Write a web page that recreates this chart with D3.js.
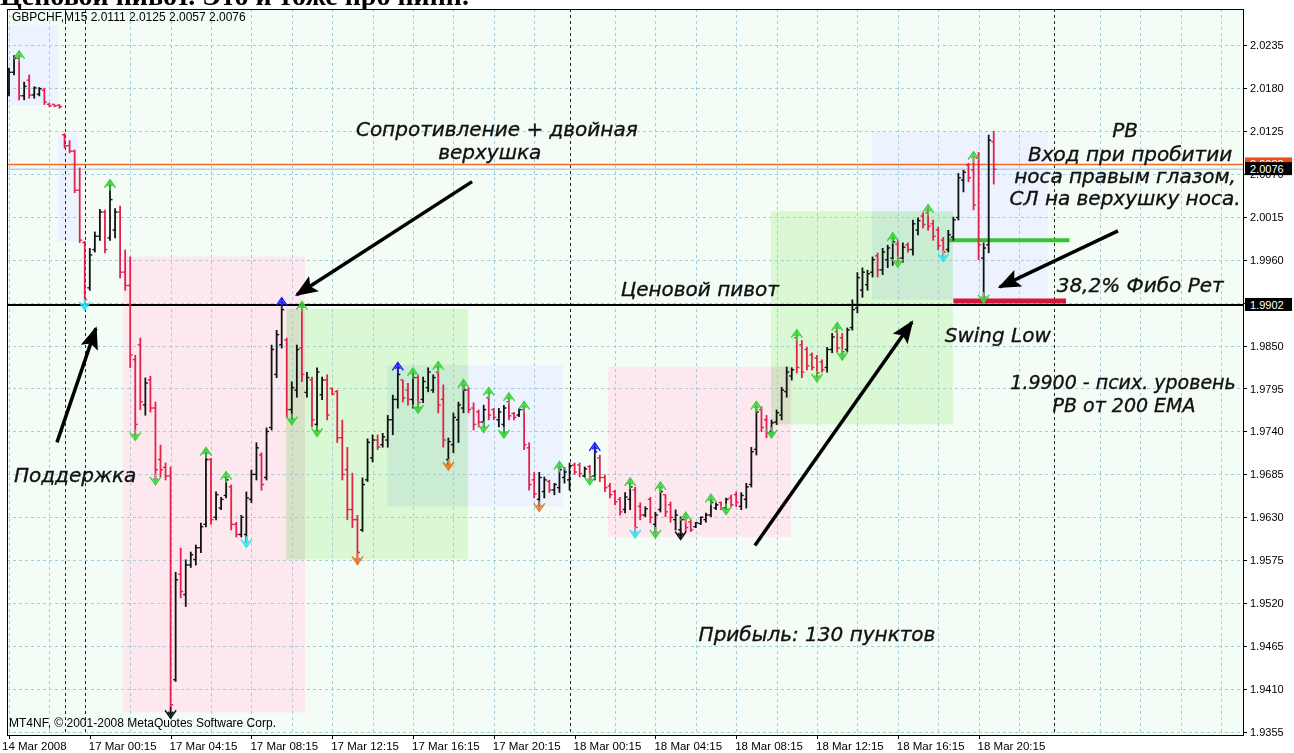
<!DOCTYPE html>
<html>
<head>
<meta charset="utf-8">
<script src="https://cdn.jsdelivr.net/npm/d3@7"></script>
<style>
  body { margin: 0; background: #fff; }
  svg text { font-family: "Liberation Sans", Arial, sans-serif; }
  .note { font-family: "DejaVu Sans", Verdana, sans-serif !important; font-style: italic; font-size: 20px; fill: #111; stroke: #111; stroke-width: 0.35px; }
</style>
</head>
<body>
<script>
// GBPCHF M15, 14-18 Mar 2008, one value per bar (bar 0 = first bar on the left)
const opens = [2.0174,2.0200,2.0218,2.0170,2.0190,2.0171,2.0172,2.0177,2.0159,2.0159,2.0158,2.0120,2.0106,2.0099,2.0049,1.9982,1.9924,1.9973,1.9990,2.0021,
  1.9988,1.9998,2.0021,1.9944,1.9927,1.9832,1.9851,1.9774,1.9806,1.9770,1.9704,1.9694,1.9683,1.9422,1.9557,1.9531,1.9569,1.9576,1.9591,1.9621,
  1.9704,1.9630,1.9642,1.9658,1.9669,1.9621,1.9608,1.9608,1.9653,1.9685,1.9710,1.9681,1.9745,1.9813,1.9851,1.9857,1.9768,1.9793,1.9847,1.9790,
  1.9806,1.9749,1.9787,1.9806,1.9795,1.9791,1.9732,1.9691,1.9640,1.9627,1.9614,1.9678,1.9706,1.9729,1.9723,1.9729,1.9755,1.9781,1.9806,1.9793,
  1.9781,1.9809,1.9781,1.9796,1.9793,1.9816,1.9781,1.9704,1.9723,1.9755,1.9770,1.9793,1.9770,1.9765,1.9752,1.9783,1.9768,1.9755,1.9749,1.9778,
  1.9763,1.9761,1.9768,1.9719,1.9678,1.9653,1.9663,1.9676,1.9665,1.9668,1.9681,1.9678,1.9697,1.9697,1.9683,1.9695,1.9683,1.9706,1.9681,1.9670,
  1.9663,1.9653,1.9640,1.9653,1.9665,1.9644,1.9633,1.9653,1.9621,1.9640,1.9659,1.9646,1.9627,1.9614,1.9627,1.9624,1.9618,1.9622,1.9627,1.9633,
  1.9642,1.9649,1.9642,1.9655,1.9659,1.9644,1.9653,1.9672,1.9717,1.9768,1.9755,1.9740,1.9752,1.9761,1.9791,1.9811,1.9860,1.9851,1.9845,1.9838,
  1.9834,1.9829,1.9822,1.9845,1.9868,1.9860,1.9845,1.9873,1.9898,1.9921,1.9928,1.9944,1.9965,1.9947,1.9960,1.9962,1.9980,1.9962,1.9979,1.9973,
  1.9998,2.0016,2.0020,2.0006,1.9998,1.9985,1.9973,1.9989,2.0014,2.0062,2.0081,2.0075,2.0090,1.9962,1.9979,2.0111];
const highs = [2.0206,2.0222,2.0221,2.0188,2.0197,2.0182,2.0181,2.0180,2.0161,2.0159,2.0159,2.0122,2.0113,2.0101,2.0078,1.9984,1.9975,1.9996,2.0025,2.0024,
  2.0056,2.0026,2.0029,1.9973,1.9964,1.9838,1.9860,1.9809,1.9811,1.9778,1.9723,1.9700,1.9695,1.9560,1.9591,1.9576,1.9586,1.9595,1.9623,1.9713,
  1.9706,1.9663,1.9656,1.9682,1.9672,1.9624,1.9633,1.9663,1.9691,1.9726,1.9713,1.9745,1.9851,1.9870,1.9905,1.9860,1.9804,1.9851,1.9900,1.9816,
  1.9810,1.9822,1.9810,1.9813,1.9796,1.9793,1.9755,1.9720,1.9687,1.9633,1.9681,1.9731,1.9736,1.9736,1.9738,1.9761,1.9787,1.9822,1.9806,1.9802,
  1.9815,1.9813,1.9810,1.9822,1.9813,1.9823,1.9800,1.9732,1.9764,1.9778,1.9800,1.9796,1.9777,1.9768,1.9774,1.9790,1.9770,1.9770,1.9774,1.9783,
  1.9765,1.9770,1.9772,1.9726,1.9688,1.9688,1.9682,1.9678,1.9674,1.9695,1.9694,1.9700,1.9700,1.9700,1.9695,1.9697,1.9719,1.9710,1.9685,1.9674,
  1.9665,1.9656,1.9662,1.9674,1.9669,1.9649,1.9644,1.9656,1.9637,1.9669,1.9659,1.9650,1.9640,1.9631,1.9630,1.9627,1.9624,1.9631,1.9636,1.9653,
  1.9649,1.9650,1.9655,1.9659,1.9663,1.9662,1.9674,1.9720,1.9772,1.9772,1.9761,1.9755,1.9768,1.9797,1.9823,1.9822,1.9864,1.9857,1.9848,1.9841,
  1.9838,1.9832,1.9848,1.9866,1.9873,1.9866,1.9873,1.9909,1.9944,1.9950,1.9947,1.9964,1.9969,1.9975,1.9979,1.9988,1.9985,1.9982,1.9982,2.0011,
  2.0014,2.0020,2.0024,2.0011,2.0002,1.9989,1.9998,2.0015,2.0071,2.0075,2.0084,2.0092,2.0098,1.9982,2.0120,2.0125];
const lows = [2.0170,2.0197,2.0165,2.0165,2.0167,2.0167,2.0170,2.0159,2.0156,2.0156,2.0154,2.0103,2.0097,2.0046,1.9982,1.9902,1.9921,1.9970,1.9985,1.9969,
  1.9985,1.9988,1.9937,1.9921,1.9822,1.9735,1.9768,1.9761,1.9765,1.9678,1.9682,1.9678,1.9379,1.9420,1.9527,1.9516,1.9566,1.9569,1.9585,1.9618,
  1.9621,1.9627,1.9640,1.9655,1.9614,1.9605,1.9605,1.9598,1.9649,1.9678,1.9665,1.9678,1.9742,1.9809,1.9847,1.9758,1.9755,1.9784,1.9804,1.9784,
  1.9746,1.9740,1.9781,1.9755,1.9787,1.9726,1.9678,1.9627,1.9617,1.9576,1.9612,1.9676,1.9701,1.9717,1.9720,1.9720,1.9736,1.9770,1.9778,1.9774,
  1.9770,1.9770,1.9777,1.9791,1.9790,1.9764,1.9720,1.9697,1.9713,1.9726,1.9764,1.9764,1.9742,1.9746,1.9745,1.9755,1.9755,1.9746,1.9738,1.9755,
  1.9755,1.9759,1.9717,1.9665,1.9655,1.9644,1.9655,1.9662,1.9659,1.9662,1.9674,1.9665,1.9685,1.9682,1.9681,1.9678,1.9678,1.9676,1.9663,1.9655,
  1.9646,1.9633,1.9636,1.9640,1.9610,1.9627,1.9631,1.9623,1.9610,1.9637,1.9631,1.9624,1.9614,1.9608,1.9612,1.9612,1.9617,1.9621,1.9624,1.9631,
  1.9640,1.9640,1.9640,1.9644,1.9644,1.9640,1.9642,1.9669,1.9710,1.9740,1.9732,1.9738,1.9749,1.9755,1.9784,1.9806,1.9815,1.9809,1.9819,1.9819,
  1.9810,1.9816,1.9816,1.9841,1.9842,1.9838,1.9842,1.9870,1.9892,1.9912,1.9921,1.9938,1.9938,1.9941,1.9950,1.9953,1.9957,1.9957,1.9970,1.9966,
  1.9992,2.0001,1.9998,1.9985,1.9973,1.9964,1.9970,1.9985,2.0011,2.0047,2.0060,2.0024,1.9960,1.9911,1.9969,2.0057];
const closes = [2.0200,2.0218,2.0170,2.0182,2.0171,2.0180,2.0179,2.0162,2.0157,2.0157,2.0156,2.0106,2.0099,2.0049,1.9985,1.9909,1.9966,1.9990,2.0021,1.9973,
  2.0037,2.0021,1.9944,1.9927,1.9838,1.9749,1.9778,1.9802,1.9770,1.9691,1.9691,1.9683,1.9390,1.9550,1.9535,1.9569,1.9582,1.9591,1.9618,1.9704,
  1.9627,1.9659,1.9653,1.9678,1.9621,1.9608,1.9630,1.9655,1.9685,1.9719,1.9672,1.9740,1.9845,1.9864,1.9896,1.9768,1.9796,1.9845,1.9813,1.9809,
  1.9755,1.9816,1.9806,1.9761,1.9788,1.9732,1.9685,1.9640,1.9627,1.9585,1.9672,1.9726,1.9729,1.9720,1.9733,1.9755,1.9781,1.9813,1.9783,1.9781,
  1.9809,1.9777,1.9804,1.9816,1.9809,1.9774,1.9729,1.9727,1.9758,1.9774,1.9793,1.9768,1.9749,1.9752,1.9768,1.9761,1.9758,1.9765,1.9770,1.9760,
  1.9758,1.9768,1.9723,1.9672,1.9660,1.9681,1.9678,1.9665,1.9672,1.9691,1.9688,1.9696,1.9688,1.9686,1.9692,1.9682,1.9714,1.9681,1.9668,1.9659,
  1.9650,1.9637,1.9656,1.9669,1.9617,1.9633,1.9641,1.9630,1.9633,1.9663,1.9637,1.9630,1.9633,1.9627,1.9617,1.9614,1.9623,1.9630,1.9633,1.9649,
  1.9646,1.9642,1.9653,1.9646,1.9649,1.9658,1.9669,1.9714,1.9765,1.9745,1.9738,1.9751,1.9764,1.9793,1.9816,1.9819,1.9822,1.9816,1.9824,1.9822,
  1.9815,1.9819,1.9845,1.9861,1.9847,1.9842,1.9870,1.9896,1.9937,1.9944,1.9942,1.9960,1.9947,1.9970,1.9975,1.9983,1.9962,1.9976,1.9973,2.0006,
  2.0010,2.0005,2.0003,1.9990,1.9978,1.9970,1.9992,2.0011,2.0065,2.0072,2.0065,2.0030,1.9979,1.9975,2.0113,2.0076];

// fractal arrows: bar index + colour
const upArrowBars = [2,20,39,43,54,58,77,80,85,90,95,99,102,109,116,123,129,134,139,148,156,164,175,182,191];
const upArrowColors = ["g","g","g","g","b","g","b","g","g","g","g","g","g","g","b","g","g","g","g","g","g","g","g","g","g"];
const downArrowBars = [15,25,29,32,47,56,61,69,81,87,94,98,105,115,124,128,133,142,151,160,165,176,185,193];
const downArrowColors = ["c","g","g","k","c","g","g","o","g","o","g","g","o","g","c","g","k","g","g","g","g","g","c","g"];

// rectangles drawn on the chart (bar index from/to, price top/bottom)
const zoneFrom = [-0.5, 9.7, 22.6, 54.9, 74.9, 118.6, 150.9, 170.9];
const zoneTo = [9.7, 13.7, 58.6, 90.9, 109.7, 154.9, 186.9, 205.7];
const zoneTop = [2.0261, 2.0122, 1.9964, 1.9897, 1.9825, 1.9823, 2.0022, 2.0124];
const zoneBottom = [2.0158, 1.9983, 1.9380, 1.9576, 1.9644, 1.9605, 1.9749, 1.9909];
const zoneKind = ["blue", "blue", "pink", "green", "blue", "pink", "green", "blue"];

const priceTicks = [2.0235, 2.0180, 2.0125, 2.0070, 2.0015, 1.9960, 1.9905, 1.9850, 1.9795, 1.9740, 1.9685, 1.9630, 1.9575, 1.9520, 1.9465, 1.9410, 1.9355];
const timeLabelBars = [0, 16, 32, 48, 64, 80, 96, 112, 128, 144, 160, 176, 192];
const timeLabels = ["14 Mar 2008", "17 Mar 00:15", "17 Mar 04:15", "17 Mar 08:15", "17 Mar 12:15", "17 Mar 16:15", "17 Mar 20:15",
  "18 Mar 00:15", "18 Mar 04:15", "18 Mar 08:15", "18 Mar 12:15", "18 Mar 16:15", "18 Mar 20:15"];
const daySeparators = [11, 15, 111, 207];

const pivotPrice = 1.9902;
const orangeLevel = 2.0082;
const bidPrice = 2.0076;
const entryLevel = 1.9985;   // green segment
const fiboLevel = 1.9907;    // red segment
const entryFrom = 186, entryTo = 210;
const fiboFrom = 187, fiboTo = 209.3;

// annotation arrows: tail (bar, price) -> tip (bar, price)
const noteArrowFrom = [[9.5, 1.9726], [91.7, 2.0060], [147.7, 1.9594], [219.6, 1.9997]];
const noteArrowTo = [[17.2, 1.9872], [57.0, 1.9915], [178.8, 1.9880], [196.2, 1.9925]];

const noteTexts = ["Сопротивление + двойная", "верхушка", "Ценовой пивот", "Поддержка", "Swing Low",
  "1.9900 - псих. уровень", "PB от 200 EMA", "PB", "Вход при пробитии", "носа правым глазом,",
  "СЛ на верхушку носа.", "38,2% Фибо Рет", "Прибыль: 130 пунктов"];
const noteBars = [96.6, 95.2, 136.8, 13.1, 195.8, 220.6, 220.8, 221.0, 222.0, 221.0, 221.0, 224.0, 160.0];
const notePrices = [2.0119, 2.0089, 1.9914, 1.9675, 1.9855, 1.9795, 1.9765, 2.0117, 2.0087, 2.0058, 2.0030, 1.9918, 1.9471];
const noteSizes = [20, 20, 20, 20, 20, 19, 19, 20, 20, 20, 20, 20, 20];

const W = 1294, H = 753;
const plot = { left: 7, top: 9, right: 1243, bottom: 735 };

const x = d3.scaleLinear().domain([0, 195]).range([9, 993.75]);
const y = d3.scaleLinear().domain([1.9355, 2.0235]).range([732, 45]);

const svg = d3.select("body").append("svg").attr("width", W).attr("height", H);

// the cut-off line of the page text above the chart
svg.append("text")
  .attr("x", 0).attr("y", 5)
  .style("font-family", "'Liberation Serif', serif")
  .style("font-weight", "bold")
  .style("font-size", "28px")
  .text("Ценовой пивот. Это и тоже про пинн.");

svg.append("clipPath").attr("id", "clip")
  .append("rect")
  .attr("x", plot.left).attr("y", plot.top)
  .attr("width", plot.right - plot.left).attr("height", plot.bottom - plot.top);

svg.append("rect")
  .attr("x", plot.left).attr("y", plot.top)
  .attr("width", plot.right - plot.left).attr("height", plot.bottom - plot.top)
  .attr("fill", "#f3fdf6");

let chart = svg.append("g").attr("clip-path", "url(#clip)");

let zoneFill = { blue: "#ecf3fe", pink: "#fde8ef", green: "#d9f8d3" };
chart.append("g").selectAll("rect")
  .data(zoneKind)
  .enter()
  .append("rect")
  .attr("x", (d, i) => x(zoneFrom[i]))
  .attr("y", (d, i) => y(zoneTop[i]))
  .attr("width", (d, i) => x(zoneTo[i]) - x(zoneFrom[i]))
  .attr("height", (d, i) => y(zoneBottom[i]) - y(zoneTop[i]))
  .attr("fill", d => zoneFill[d])
  .style("mix-blend-mode", "multiply");

// grid
let gridColor = "#9fcfe3";
chart.append("g").selectAll("line")
  .data(priceTicks)
  .enter()
  .append("line")
  .attr("x1", plot.left).attr("x2", plot.right)
  .attr("y1", d => Math.round(y(d)) + 0.5).attr("y2", d => Math.round(y(d)) + 0.5)
  .attr("stroke", gridColor)
  .attr("stroke-dasharray", "3,3");

// vertical grid every 2 hours, none right next to a day separator
let gridBars = d3.range(0, 246, 8).filter(k => daySeparators.every(s => Math.abs(s - k) > 1));
chart.append("g").selectAll("line")
  .data(gridBars)
  .enter()
  .append("line")
  .attr("x1", d => Math.round(x(d)) + 0.5).attr("x2", d => Math.round(x(d)) + 0.5)
  .attr("y1", plot.top).attr("y2", plot.bottom)
  .attr("stroke", gridColor)
  .attr("stroke-dasharray", "3,3");

chart.append("g").selectAll("line")
  .data(daySeparators)
  .enter()
  .append("line")
  .attr("x1", d => Math.round(x(d)) + 0.5).attr("x2", d => Math.round(x(d)) + 0.5)
  .attr("y1", plot.top).attr("y2", plot.bottom)
  .attr("stroke", "#222")
  .attr("stroke-dasharray", "3,3");

// horizontal levels
chart.append("line")
  .attr("x1", plot.left).attr("x2", plot.right)
  .attr("y1", y(orangeLevel)).attr("y2", y(orangeLevel))
  .attr("stroke", "#f26a2c").attr("stroke-width", 1.5);
chart.append("line")
  .attr("x1", plot.left).attr("x2", plot.right)
  .attr("y1", y(bidPrice)).attr("y2", y(bidPrice))
  .attr("stroke", "#a9d4ea").attr("stroke-width", 1.5);
chart.append("line")
  .attr("x1", plot.left).attr("x2", plot.right)
  .attr("y1", y(pivotPrice)).attr("y2", y(pivotPrice))
  .attr("stroke", "#000").attr("stroke-width", 2);
chart.append("line")
  .attr("x1", x(entryFrom)).attr("x2", x(entryTo))
  .attr("y1", y(entryLevel)).attr("y2", y(entryLevel))
  .attr("stroke", "#35c433").attr("stroke-width", 4);
chart.append("line")
  .attr("x1", x(fiboFrom)).attr("x2", x(fiboTo))
  .attr("y1", y(fiboLevel)).attr("y2", y(fiboLevel))
  .attr("stroke", "#d8143a").attr("stroke-width", 5);

// OHLC bars
let bars = chart.append("g").selectAll("g")
  .data(closes)
  .enter()
  .append("g")
  .attr("stroke", (d, i) => d < opens[i] ? "#e6204d" : "#111");

bars.append("line")
  .attr("x1", (d, i) => x(i)).attr("x2", (d, i) => x(i))
  .attr("y1", (d, i) => y(highs[i])).attr("y2", (d, i) => y(lows[i]) + 0.5)
  .attr("stroke-width", 1.8);
bars.append("line")
  .attr("x1", (d, i) => x(i) - 2.5).attr("x2", (d, i) => x(i))
  .attr("y1", (d, i) => y(opens[i])).attr("y2", (d, i) => y(opens[i]))
  .attr("stroke-width", 1.4);
bars.append("line")
  .attr("x1", (d, i) => x(i)).attr("x2", (d, i) => x(i) + 2.5)
  .attr("y1", (d, i) => y(d)).attr("y2", (d, i) => y(d))
  .attr("stroke-width", 1.4);

// fractal arrows
let arrowColor = { g: "#3ccf3c", b: "#1a1aff", c: "#2fe3f0", o: "#e07a28", k: "#111" };
let arrowPath = "M-5.5,8 L0,0 L5.5,8 M-2.5,6.5 L0,3 L2.5,6.5 M0,0 L0,11";
chart.append("g").selectAll("path")
  .data(upArrowBars)
  .enter()
  .append("path")
  .attr("d", arrowPath)
  .attr("transform", d => `translate(${x(d)},${y(highs[d]) - 5})`)
  .attr("fill", "none")
  .attr("stroke-width", 1.4)
  .attr("stroke", (d, i) => arrowColor[upArrowColors[i]]);
chart.append("g").selectAll("path")
  .data(downArrowBars)
  .enter()
  .append("path")
  .attr("d", arrowPath)
  .attr("transform", d => `translate(${x(d)},${y(lows[d]) + 5}) scale(1,-1)`)
  .attr("fill", "none")
  .attr("stroke-width", 1.4)
  .attr("stroke", (d, i) => arrowColor[downArrowColors[i]]);

// annotation arrows
svg.append("defs").append("marker")
  .attr("id", "head")
  .attr("viewBox", "0 0 10 8")
  .attr("refX", 9).attr("refY", 4)
  .attr("markerWidth", 6.5).attr("markerHeight", 5.2)
  .attr("orient", "auto")
  .append("path")
  .attr("d", "M0,0 L10,4 L0,8 L2,4 Z")
  .attr("fill", "#000");

chart.append("g").selectAll("line")
  .data(noteArrowFrom)
  .enter()
  .append("line")
  .attr("x1", d => x(d[0])).attr("y1", d => y(d[1]))
  .attr("x2", (d, i) => x(noteArrowTo[i][0])).attr("y2", (d, i) => y(noteArrowTo[i][1]))
  .attr("stroke", "#000")
  .attr("stroke-width", 3.5)
  .attr("marker-end", "url(#head)");

chart.append("g").selectAll("text")
  .data(noteTexts)
  .enter()
  .append("text")
  .attr("class", "note")
  .attr("x", (d, i) => x(noteBars[i]))
  .attr("y", (d, i) => y(notePrices[i]))
  .attr("text-anchor", "middle")
  .style("font-size", (d, i) => noteSizes[i] + "px")
  .text(d => d);

// header and copyright
chart.append("text")
  .attr("x", 12).attr("y", 21)
  .style("font-size", "12px")
  .text("GBPCHF,M15  2.0111 2.0125 2.0057 2.0076");
chart.append("text")
  .attr("x", 9).attr("y", 727)
  .style("font-size", "12px")
  .text("MT4NF, © 2001-2008 MetaQuotes Software Corp.");

// frame
svg.append("rect")
  .attr("x", plot.left + 0.5).attr("y", plot.top + 0.5)
  .attr("width", plot.right - plot.left).attr("height", plot.bottom - plot.top)
  .attr("fill", "none")
  .attr("stroke", "#000");

// price axis
let priceAxis = svg.append("g");
priceAxis.selectAll("line")
  .data(priceTicks)
  .enter()
  .append("line")
  .attr("x1", plot.right).attr("x2", plot.right + 4)
  .attr("y1", d => Math.round(y(d)) + 0.5).attr("y2", d => Math.round(y(d)) + 0.5)
  .attr("stroke", "#000");
priceAxis.selectAll("text")
  .data(priceTicks)
  .enter()
  .append("text")
  .attr("x", plot.right + 7)
  .attr("y", d => y(d) + 4)
  .style("font-size", "11px")
  .text(d => d.toFixed(4));

let priceTag = (price, fill) => {
  let g = svg.append("g").attr("transform", `translate(${plot.right + 2},${y(price)})`);
  g.append("rect").attr("x", 0).attr("y", -7).attr("width", 47).attr("height", 13).attr("fill", fill);
  g.append("text").attr("x", 5).attr("y", 4).attr("fill", "#fff").style("font-size", "11px").text(price.toFixed(4));
};
priceTag(orangeLevel, "#f04a1a");
priceTag(bidPrice, "#000");
priceTag(pivotPrice, "#000");

// time axis
let timeAxis = svg.append("g");
timeAxis.selectAll("line")
  .data(timeLabelBars)
  .enter()
  .append("line")
  .attr("x1", d => Math.round(x(d)) + 0.5).attr("x2", d => Math.round(x(d)) + 0.5)
  .attr("y1", plot.bottom).attr("y2", plot.bottom + 4)
  .attr("stroke", "#000");
timeAxis.selectAll("text")
  .data(timeLabels)
  .enter()
  .append("text")
  .attr("x", (d, i) => i === 0 ? 2 : x(timeLabelBars[i]) - 1)
  .attr("y", 750)
  .style("font-size", "11.5px")
  .text(d => d);
</script>
</body>
</html>
